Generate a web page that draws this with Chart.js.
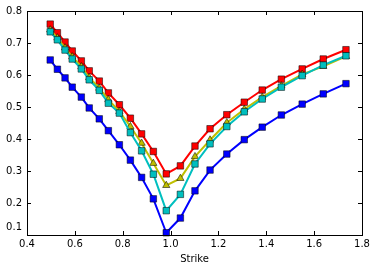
<!DOCTYPE html>
<html>
<head>
<meta charset="utf-8">
<script src="https://cdn.jsdelivr.net/npm/chart.js@4/dist/chart.umd.min.js"></script>
<style>
html,body{margin:0;padding:0;background:#fff;}
#c{display:block;}
</style>
</head>
<body>
<canvas id="c" width="377" height="271"></canvas>
<script>
const strikes = [0.497, 0.527, 0.559, 0.589, 0.627, 0.660, 0.702, 0.740, 0.786, 0.832, 0.879, 0.928, 0.982, 1.041, 1.102, 1.165, 1.235, 1.308, 1.383, 1.463, 1.550, 1.638, 1.733];
const blueVals = [0.647, 0.618, 0.591, 0.562, 0.531, 0.497, 0.463, 0.426, 0.382, 0.334, 0.280, 0.213, 0.107, 0.153, 0.238, 0.303, 0.353, 0.398, 0.437, 0.475, 0.509, 0.541, 0.573];
const redVals = [0.759, 0.732, 0.703, 0.675, 0.644, 0.613, 0.581, 0.544, 0.507, 0.465, 0.416, 0.361, 0.291, 0.316, 0.378, 0.432, 0.476, 0.515, 0.553, 0.587, 0.619, 0.650, 0.679];
const yellowVals = [0.741, 0.716, 0.685, 0.657, 0.626, 0.592, 0.559, 0.523, 0.486, 0.439, 0.387, 0.324, 0.255, 0.277, 0.345, 0.397, 0.451, 0.493, 0.531, 0.566, 0.602, 0.627, 0.658];
const cyanVals = [0.735, 0.710, 0.678, 0.650, 0.619, 0.585, 0.552, 0.512, 0.481, 0.420, 0.363, 0.290, 0.176, 0.227, 0.322, 0.385, 0.439, 0.485, 0.525, 0.562, 0.598, 0.631, 0.660];
const xTicks = [0.4, 0.6, 0.8, 1.0, 1.2, 1.4, 1.6, 1.8];
const yTicks = [0.1, 0.2, 0.3, 0.4, 0.5, 0.6, 0.7, 0.8];
const xLabel = 'Strike';

function pts(vals){ return strikes.map((s,i)=>({x:s, y:vals[i]})); }
function ds(vals, color, style, radius, order){
  return {
    data: pts(vals), borderColor: color, backgroundColor: color, borderWidth: 2,
    pointStyle: style, pointRadius: radius, pointHoverRadius: radius,
    pointBackgroundColor: color, pointBorderColor: 'rgba(0,0,0,0.65)', pointBorderWidth: 0.8,
    tension: 0, order: order, fill: false, clip: 6
  };
}

const font = {family: 'DejaVu Sans', size: 10};

const frame = {
  id: 'frame',
  afterDatasetsDraw(chart){
    const {ctx, chartArea:a, scales:{x, y}} = chart;
    ctx.save();
    ctx.strokeStyle = '#000';
    ctx.lineWidth = 1;
    ctx.beginPath();
    xTicks.forEach(v=>{
      const px = Math.round(x.getPixelForValue(v)) + 0.5;
      ctx.moveTo(px, a.bottom); ctx.lineTo(px, a.bottom - 4);
      ctx.moveTo(px, a.top); ctx.lineTo(px, a.top + 4);
    });
    yTicks.forEach(v=>{
      const py = Math.round(y.getPixelForValue(v)) + 0.5;
      ctx.moveTo(a.left, py); ctx.lineTo(a.left + 4, py);
      ctx.moveTo(a.right, py); ctx.lineTo(a.right - 4, py);
    });
    ctx.stroke();
    ctx.strokeRect(Math.round(a.left)+0.5, Math.round(a.top)+0.5, Math.round(a.right - a.left), Math.round(a.bottom - a.top));
    // y tick labels; the lowest sits raised above its tick, as in the reference
    ctx.fillStyle = '#000';
    ctx.font = '10px "DejaVu Sans"';
    ctx.textAlign = 'right';
    ctx.textBaseline = 'middle';
    yTicks.forEach((v, i)=>{
      const py = y.getPixelForValue(v) + (i === 0 ? -8 : 0);
      ctx.fillText(v.toFixed(1), a.left - 5, py);
    });
    ctx.restore();
  }
};

new Chart(document.getElementById('c'), {
  type: 'line',
  data: { datasets: [
    ds(blueVals, '#0000ff', 'rect', 4.6, 4),
    ds(redVals, '#ff0000', 'rect', 4.6, 3),
    ds(yellowVals, '#bfbf00', 'triangle', 4.2, 2),
    ds(cyanVals, '#00bfbf', 'rect', 4.6, 1)
  ]},
  options: {
    responsive: false, animation: false, devicePixelRatio: 1,
    layout: { padding: {top: 11, right: 15, left: 0, bottom: 0} },
    plugins: { legend: {display: false}, tooltip: {enabled: false} },
    scales: {
      x: {
        type: 'linear', min: 0.4, max: 1.8,
        afterBuildTicks(s){ s.ticks = xTicks.map(v=>({value:v})); },
        afterFit(s){ s.height = 36; },
        ticks: { font, color: '#000', padding: 3, maxRotation: 0, callback: v => v.toFixed(1) },
        grid: { display: false, drawTicks: false },
        border: { display: false },
        title: { display: true, text: xLabel, font, color: '#000', padding: {top: 0, bottom: 6} }
      },
      y: {
        type: 'linear', min: 0.1, max: 0.8,
        afterBuildTicks(s){ s.ticks = yTicks.map(v=>({value:v})); },
        afterFit(s){ s.width = 27; },
        ticks: { display: false },
        grid: { display: false, drawTicks: false },
        border: { display: false }
      }
    }
  },
  plugins: [frame]
});
</script>
</body>
</html>
